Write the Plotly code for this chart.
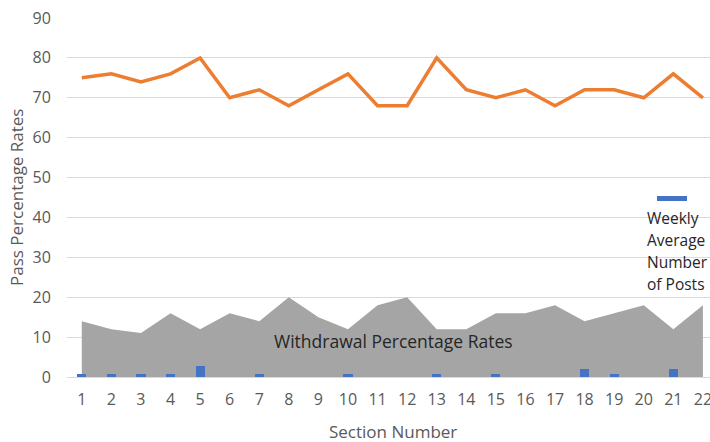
import plotly.graph_objects as go

sections = list(range(1, 23))
pass_rates = [75, 76, 74, 76, 80, 70, 72, 68, 72, 76, 68, 68, 80, 72, 70, 72, 68, 72, 72, 70, 76, 70]
withdrawal_rates = [14, 12, 11, 16, 12, 16, 14, 20, 15, 12, 18, 20, 12, 12, 16, 16, 18, 14, 16, 18, 12, 18]
weekly_posts = [0.8, 0.8, 0.8, 0.8, 2.7, 0, 0.8, 0, 0, 0.8, 0, 0, 0.8, 0, 0.8, 0, 0, 1.9, 0.8, 0, 1.9, 0]
y_ticks = [0, 10, 20, 30, 40, 50, 60, 70, 80, 90]
legend_lines = ["Weekly", "Average", "Number", "of Posts"]

FONT = "Open Sans"
TXT = "#595959"
DARK = "#262626"

W, H = 710, 442
L, R, T, B = 67, 0, 18, 65
px_w, px_h = W - L - R, H - T - B


def pxx(x):
    return (x - L) / px_w


def pxy(y):
    return (H - B - y) / px_h


fig = go.Figure()
fig.add_trace(go.Scatter(
    x=sections, y=withdrawal_rates, mode="lines", fill="tozeroy",
    line=dict(width=0, color="#A5A5A5"), fillcolor="#A5A5A5",
    name="Withdrawal Percentage Rates", yaxis="y", showlegend=False, hoverinfo="skip"))
fig.add_trace(go.Bar(
    x=sections, y=weekly_posts, marker=dict(color="#4472C4", line=dict(width=0)), width=0.31,
    name="Weekly Average Number of Posts", yaxis="y2", showlegend=False))
fig.add_trace(go.Scatter(
    x=sections, y=pass_rates, mode="lines",
    line=dict(width=3.5, color="#ED7D31"),
    name="Pass Percentage Rates", yaxis="y2", showlegend=False))

fig.update_layout(
    width=W, height=H,
    margin=dict(l=L, r=R, t=T, b=B),
    paper_bgcolor="white", plot_bgcolor="white",
    font=dict(family=FONT, size=16, color=TXT),
    xaxis=dict(range=[0.5, 22.24], tickmode="array", tickvals=sections,
               ticktext=[str(s) for s in sections], showgrid=False,
               zeroline=False, showline=False, ticks="outside", ticklen=8,
               tickcolor="rgba(0,0,0,0)", automargin=False, ticklabeloverflow="allow",
               tickfont=dict(size=16, color=TXT)),
    yaxis=dict(range=[0, 90], tickvals=y_ticks, showgrid=True, gridcolor="#D9D9D9",
               gridwidth=1, zeroline=True, zerolinecolor="#D9D9D9", zerolinewidth=1,
               ticks="outside", ticklen=12, tickcolor="rgba(0,0,0,0)", automargin=False,
               ticklabeloverflow="allow",
               tickfont=dict(size=16, color=TXT)),
    yaxis2=dict(range=[0, 90], overlaying="y", showgrid=False, zeroline=False,
                showticklabels=False, ticks=""),
    bargap=0,
)

# axis titles
fig.add_annotation(x=pxx(393), y=pxy(431), xref="paper", yref="paper",
                   xanchor="center", yanchor="middle",
                   text="Section Number", showarrow=False,
                   font=dict(size=17, color=TXT, family=FONT))
fig.add_annotation(x=pxx(16), y=pxy(198), xref="paper", yref="paper",
                   xanchor="center", yanchor="middle",
                   text="Pass Percentage Rates", showarrow=False, textangle=-90,
                   font=dict(size=17, color=TXT, family=FONT))

fig.add_annotation(x=pxx(393), y=pxy(341), xref="paper", yref="paper",
                   xanchor="center", yanchor="middle",
                   text="Withdrawal Percentage Rates", showarrow=False,
                   font=dict(size=17.5, color=DARK, family=FONT))
fig.add_shape(type="rect", xref="paper", yref="paper",
              x0=pxx(657), x1=pxx(687), y0=pxy(201), y1=pxy(196),
              fillcolor="#4472C4", line=dict(width=0))
for i, t in enumerate(legend_lines):
    fig.add_annotation(x=pxx(645), y=pxy(218 + 22 * i), xref="paper", yref="paper",
                       text=t, showarrow=False, xanchor="left", yanchor="middle",
                       font=dict(size=15.5, color=DARK, family=FONT))

fig.write_html("out.html", config={"displayModeBar": False},
               post_script="document.body.style.margin='0';document.body.style.overflow='hidden';")
